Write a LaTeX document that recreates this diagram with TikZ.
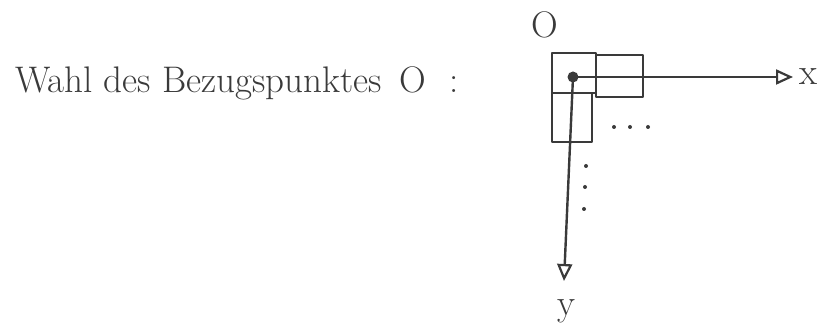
\documentclass[tikz,border=0pt]{standalone}
\usetikzlibrary{arrows.meta}
\definecolor{ink}{HTML}{3A3A3A}
\begin{document}
\begin{tikzpicture}[x=1pt,y=-1pt,
  pen/.style={draw=ink,line width=2.4pt,line cap=round,line join=round},
  cell/.style={pen,line width=2.2pt},
  axis/.style={pen,-{Triangle[open,length=17pt,width=15pt,line width=2.2pt]}},
  lbl/.style={text=ink,font=\fontsize{37}{42}\selectfont,inner sep=0pt},
  dotmark/.style={circle,fill=ink,inner sep=0pt,minimum size=4pt}]
\useasboundingbox (0,0) rectangle (822,336);
% caption on the left
\node[lbl,anchor=base west] (title) at (15,93) {Wahl des Bezugspunktes \,O\,\, :};
% grid cells around the reference point
\draw[cell] (552,53) rectangle (596,93);
\draw[cell] (596,55) rectangle (643,97);
\draw[cell] (552,93) rectangle (592,142);
% reference point and axes
\node[circle,fill=ink,inner sep=0pt,minimum size=11pt] (o) at (573,77) {};
\coordinate (xe) at (793,77);
\coordinate (ye) at (564,281);
\draw[axis] (o.center) -- (xe);
\draw[axis] (o.center) -- (ye);
\node[lbl,anchor=west] (xl) at (799,77) {x};
\node[lbl] (yl) at (566,311) {y};
\node[lbl] (ol) at (545,25) {O};
% continuation dots
\node[dotmark] (h1) at (614,127) {};
\node[dotmark] (h2) at (630,127) {};
\node[dotmark] (h3) at (648,127) {};
\node[dotmark] (v1) at (586,166) {};
\node[dotmark] (v2) at (585,187) {};
\node[dotmark] (v3) at (584,209) {};
\end{tikzpicture}
\end{document}
